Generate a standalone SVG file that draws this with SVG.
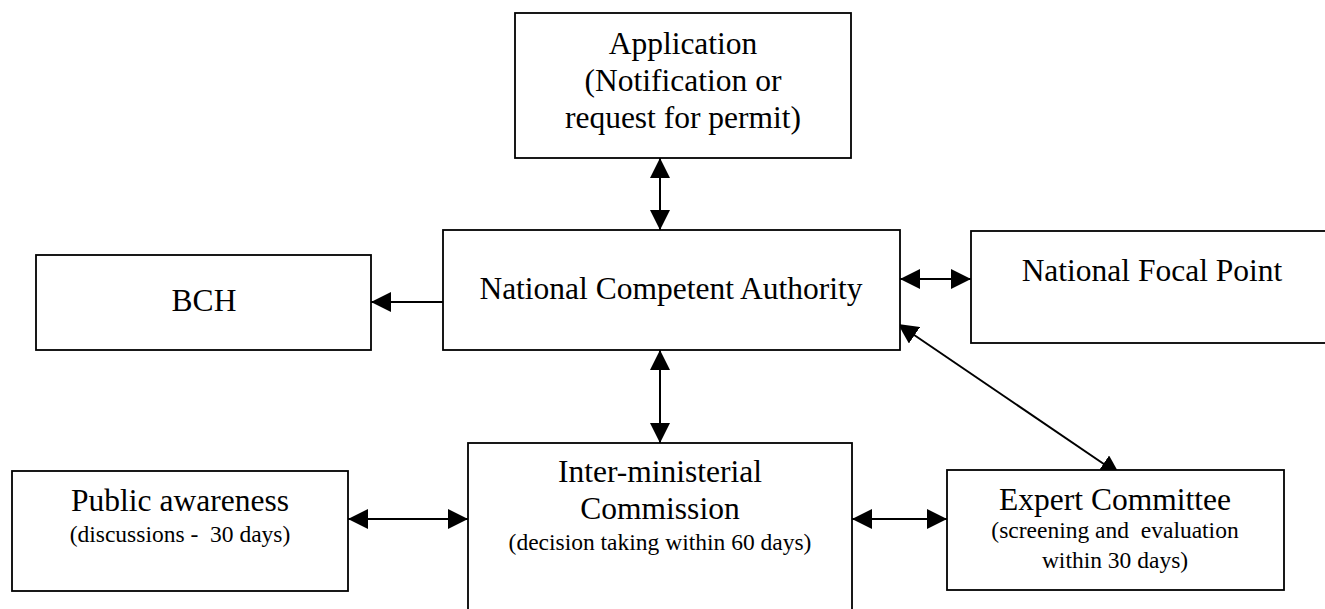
<svg xmlns="http://www.w3.org/2000/svg" width="1325" height="609" viewBox="0 0 1325 609">
<style>
.box{fill:#fff;stroke:#000;stroke-width:1.8}
.c{stroke:#000;stroke-width:2;fill:none}
.big{font-family:"Liberation Serif","Times New Roman",serif;font-size:31.5px;fill:#000;text-anchor:middle}
.sm{font-family:"Liberation Serif","Times New Roman",serif;font-size:23.5px;fill:#000;text-anchor:middle;white-space:pre}
</style>
<defs>
<marker id="ah" markerUnits="userSpaceOnUse" viewBox="0 0 20 20" markerWidth="20" markerHeight="20" refX="20" refY="10" orient="auto-start-reverse">
<path d="M0,0 L20,10 L0,20 z" fill="#000"/>
</marker>
</defs>
<rect width="1325" height="609" fill="#fff"/>
<g id="connectors">
<line class="c" x1="660" y1="158" x2="660" y2="230" marker-start="url(#ah)" marker-end="url(#ah)"/>
<line class="c" x1="443" y1="302" x2="371" y2="302" marker-end="url(#ah)"/>
<line class="c" x1="900" y1="279" x2="971" y2="279" marker-start="url(#ah)" marker-end="url(#ah)"/>
<line class="c" x1="660" y1="350" x2="660" y2="443" marker-start="url(#ah)" marker-end="url(#ah)"/>
<line class="c" x1="348" y1="519" x2="468" y2="519" marker-start="url(#ah)" marker-end="url(#ah)"/>
<line class="c" x1="852" y1="519" x2="947" y2="519" marker-start="url(#ah)" marker-end="url(#ah)"/>
<line class="c" x1="898" y1="324" x2="1120" y2="475" marker-start="url(#ah)" marker-end="url(#ah)"/>
</g>
<g id="application">
<rect class="box" x="515" y="13" width="336" height="145"/>
<text class="big" x="683" y="54">Application</text>
<text class="big" x="683" y="91">(Notification or</text>
<text class="big" x="683" y="128">request for permit)</text>
</g>
<g id="nca">
<rect class="box" x="443" y="230" width="457" height="120"/>
<text class="big" x="671" y="299">National Competent Authority</text>
</g>
<g id="bch">
<rect class="box" x="36" y="255" width="335" height="95"/>
<text class="big" x="204" y="311">BCH</text>
</g>
<g id="nfp">
<rect class="box" x="971" y="231" width="362" height="112"/>
<text class="big" x="1152" y="281">National Focal Point</text>
</g>
<g id="public">
<rect class="box" x="12" y="471" width="336" height="120"/>
<text class="big" x="180" y="511">Public awareness</text>
<text class="sm" x="180" y="542">(discussions -  30 days)</text>
</g>
<g id="inter">
<rect class="box" x="468" y="443" width="384" height="180"/>
<text class="big" x="660" y="482">Inter-ministerial</text>
<text class="big" x="660" y="519">Commission</text>
<text class="sm" x="660" y="550">(decision taking within 60 days)</text>
</g>
<g id="expert">
<rect class="box" x="947" y="470" width="337" height="120"/>
<text class="big" x="1115" y="510">Expert Committee</text>
<text class="sm" x="1115" y="538">(screening and  evaluation</text>
<text class="sm" x="1115" y="568">within 30 days)</text>
</g>
</svg>
